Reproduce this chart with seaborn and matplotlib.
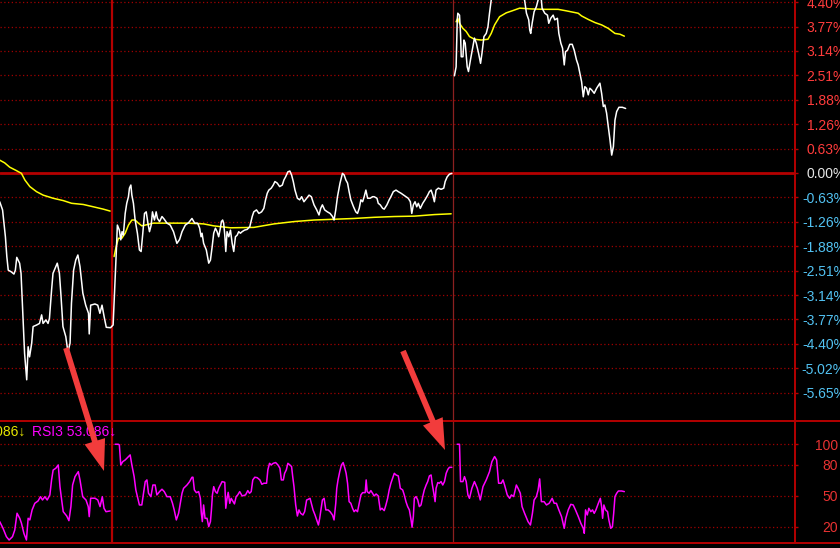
import matplotlib
matplotlib.use("Agg")
import numpy as np
import pandas as pd
import matplotlib.pyplot as plt
import seaborn as sns
from matplotlib.lines import Line2D
from matplotlib.patches import FancyArrowPatch

# ---- price line (% change), minute index, 240 minutes per trading day ----
day1_min = [161, 163, 165, 166, 167, 169, 171, 172, 173, 175, 176, 177.5, 178.5, 180, 181, 182, 183.5, 184.5, 187, 189,
            190.5, 191.5, 193.5, 195, 196, 197.5, 198.5, 201.5, 203, 204, 205.5, 207.5, 209, 210.5, 211.5, 213, 214.5,
            216, 217.5, 219.5, 221.5, 223.5, 224, 225, 228, 230, 231.5, 233, 234.5, 236, 239]
day1_pct = [-0.74, -0.95, -1.64, -2.15, -2.50, -2.54, -2.60, -2.50, -2.17, -2.32, -2.58, -3.78, -4.64, -5.32, -4.47,
            -4.73, -4.38, -3.95, -3.91, -3.87, -3.65, -3.87, -3.78, -3.87, -3.74, -3.01, -2.58, -2.32, -2.58, -3.09,
            -3.95, -4.21, -4.60, -4.38, -3.35, -2.50, -2.24, -2.11, -2.41, -3.09, -3.40, -3.61, -4.14, -3.40, -3.37,
            -3.40, -3.61, -3.40, -3.70, -3.97, -3.98]

day2_min = [240.8, 242.2, 243, 243.8, 245.2, 246.2, 247.1, 248, 249.3, 250.4, 251.6, 252.3, 253.3, 254, 255.1, 256.3,
            257.9, 259.3, 260.5, 261.7, 262.9, 264.1, 265.3, 266.4, 267.6, 268.5, 269.9, 271.1, 272, 273.5, 275.2,
            276.8, 278.7, 281, 283.3, 285.7, 287.6, 289.3, 291.6, 293.9, 296.3, 298.2, 300.3, 301.7, 302.7, 303.4,
            304.5, 306.4, 308.1, 309.3, 310.5, 311.6, 312.8, 314, 315.1, 316.3, 317, 317.9, 318.6, 319.4, 320.1, 321,
            322.2, 323.4, 324.6, 325.7, 326.9, 328.1, 329.2, 330.4, 331.6, 333.3, 335.2, 337, 338.7, 339.8, 341.7,
            343.4, 345.3, 346.9, 348.1, 349.3, 350.4, 352.1, 353.5, 354.7, 356.3, 358, 359.9, 361, 362.2, 363.8,
            365.2, 366.4, 367.6, 368.8, 370.5, 372.1, 373.5, 375.1, 377, 378.7, 380.3, 382.2, 384.1, 385.7, 386.9,
            388.1, 389.7, 391.6, 393.5, 395.2, 396.3, 397.5, 398.7, 400.5, 402.2, 403.4, 404.6, 405.8, 406.9, 408.1,
            410, 411.6, 412.8, 414, 415.2, 416.4, 417.5, 418.7, 419.9, 421.7, 423.4, 424.5, 426.5, 427.4, 428.8,
            430.5, 431.6, 433.5, 435.1, 436.3, 438, 439.9, 441.5, 443.4, 445.3, 446.9, 448.5, 450, 451, 452.1, 453.3,
            454.5, 455.6, 457, 458.7, 460.3, 462.2, 463.4, 464.6, 465.8, 466.9, 468.1, 469.7, 471.6, 473.5, 474.5,
            475.9, 477.5, 479.2]
day2_pct = [-3.91, -2.75, -2.07, -1.34, -1.47, -1.72, -1.51, -1.60, -1.04, -0.78, -0.61, -0.39, -0.31, -0.57, -0.78,
            -1.21, -1.55, -1.98, -2.02, -1.55, -1.04, -1.00, -1.29, -1.51, -1.34, -1.00, -1.21, -1.00, -1.17, -1.25,
            -1.12, -1.19, -1.29, -1.34, -1.51, -1.81, -1.71, -1.51, -1.34, -1.28, -1.17, -1.29, -1.29, -1.42, -1.64,
            -1.55, -1.81, -1.98, -2.32, -2.24, -1.90, -1.55, -1.42, -1.51, -1.64, -1.42, -1.25, -1.21, -1.29, -1.60,
            -2.02, -1.51, -1.64, -1.47, -1.81, -2.02, -1.64, -1.60, -1.51, -1.55, -1.51, -1.47, -1.45, -1.38, -1.12,
            -1.00, -0.95, -1.04, -1.00, -0.91, -0.69, -0.52, -0.44, -0.39, -0.31, -0.22, -0.26, -0.35, -0.31, -0.18,
            -0.10, 0.03, 0.05, -0.05, -0.22, -0.44, -0.65, -0.69, -0.61, -0.74, -0.65, -0.57, -0.61, -0.82, -0.95,
            -1.08, -0.91, -0.82, -0.95, -1.00, -1.04, -1.12, -1.21, -0.95, -0.61, -0.26, -0.01, -0.05, -0.18, -0.26,
            -0.48, -0.69, -0.87, -1.00, -1.04, -0.91, -0.69, -0.74, -0.61, -0.44, -0.65, -0.65, -0.61, -0.61, -0.65,
            -0.78, -0.82, -0.91, -0.93, -0.82, -0.69, -0.61, -0.48, -0.44, -0.48, -0.52, -0.57, -0.61, -0.65, -0.74,
            -1.04, -0.82, -0.74, -0.87, -0.78, -0.91, -0.78, -0.69, -0.57, -0.48, -0.44, -0.57, -0.74, -0.44, -0.39,
            -0.42, -0.39, -0.22, -0.10, -0.03, -0.01]

day3_min = [481, 482.2, 483, 483.4, 484.6, 485.3, 485.8, 487, 487.7, 488.6, 490, 490.9, 492.3, 494, 495.1, 496.4, 498,
            499.4, 500.4, 501.8, 503.4, 504.6, 505.7, 506.9, 510.5, 514, 519, 524.6, 528, 530.4, 531.7, 533.3, 534,
            534.7, 535.7, 537.1, 538.7, 539.9, 540.8, 542.2, 542.7, 544.6, 546.5, 547.4, 548.8, 550.5, 551.6, 553.5,
            554.5, 555.9, 557.1, 558.3, 559.2, 560.6, 562.2, 563.9, 565.3, 566.9, 568.1, 570, 570.5, 571.7, 572.8,
            574, 575.2, 576.3, 577.5, 579.4, 581.1, 583.4, 584.6, 585.8, 586.9, 588.1, 589.3, 590.5, 591.7, 592.9,
            594, 595.2, 596.8, 599.2, 601.5]
day3_pct = [2.50, 2.73, 3.94, 4.11, 4.06, 3.59, 2.99, 2.99, 3.42, 3.34, 2.73, 2.61, 2.91, 3.25, 3.47, 3.34, 3.08, 2.82,
            3.08, 3.51, 3.59, 3.76, 4.11, 4.45, 4.71, 4.84, 4.76, 4.66, 4.53, 4.45, 4.11, 3.94, 3.68, 3.59, 3.85,
            4.15, 4.28, 4.45, 4.55, 4.45, 4.24, 4.11, 4.06, 3.85, 3.98, 4.06, 3.94, 3.98, 3.59, 3.34, 3.21, 2.78,
            3.12, 3.16, 3.31, 3.31, 3.16, 2.91, 2.78, 2.44, 2.35, 1.96, 2.22, 2.18, 2.01, 2.18, 2.14, 2.05, 2.18,
            2.31, 2.05, 1.71, 1.75, 1.54, 1.19, 0.85, 0.46, 0.68, 1.36, 1.58, 1.69, 1.69, 1.66]

# ---- average price line ----
avg1_min = [161, 164.5, 168, 172.8, 176.3, 178.7, 182.2, 186.9, 191.6, 198.6, 205.7, 211.6, 219.8, 226.9, 233.9, 238.7]
avg1_pct = [0.33, 0.26, 0.15, 0.06, -0.01, -0.18, -0.35, -0.48, -0.57, -0.65, -0.71, -0.78, -0.81, -0.87, -0.93, -0.98]
avg2_min = [241.5, 242.9, 244.5, 246.9, 249.3, 251.6, 254, 256.3, 258.6, 261, 263.4, 269.2, 278.7, 292.8, 304.5,
            311.6, 323.4, 339.8, 354, 368.1, 382.2, 396.3, 410.4, 424.5, 438.7, 452.8, 466.9, 478.7]
avg2_pct = [-2.15, -1.90, -1.68, -1.68, -1.55, -1.34, -1.21, -1.21, -1.29, -1.36, -1.34, -1.29, -1.29, -1.29, -1.31,
            -1.36, -1.41, -1.40, -1.31, -1.25, -1.21, -1.19, -1.17, -1.14, -1.12, -1.11, -1.07, -1.05]
avg3_min = [482.2, 483.4, 484.6, 487, 489.3, 491.6, 495.1, 499.9, 504.6, 506.9, 509.3, 512.8, 517.5, 522.3, 526.9,
            535.2, 544.6, 554, 559.9, 568.1, 570.5, 575.2, 579.9, 584.6, 589.3, 594, 597.5, 600.6]
avg3_pct = [3.89, 3.98, 3.85, 3.72, 3.64, 3.51, 3.44, 3.42, 3.44, 3.59, 3.81, 4.02, 4.12, 4.18, 4.24, 4.22, 4.21,
            4.21, 4.17, 4.11, 4.04, 3.95, 3.87, 3.81, 3.72, 3.59, 3.57, 3.52]

# ---- RSI3 ----
rsi1_min = [161, 163.3, 165.7, 167.6, 170, 171.6, 173.2, 175.1, 176.3, 178, 179.8, 181, 182.2, 183.8, 185.7, 188,
            189.7, 191.1, 192.8, 194.4, 196.3, 197.5, 198.6, 200.5, 202.2, 203.4, 204.6, 205.7, 208.1, 209.7, 211.1,
            212.3, 214, 216.3, 217.5, 219.4, 221.7, 223.3, 224, 225, 228.1, 230, 231.6, 233.2, 234.4, 235.8, 238.7]
rsi1_val = [25.2, 18.8, 10.6, 7.4, 10.6, 17.1, 33.3, 28.4, 23.6, 13.9, 7.4, 28.4, 26.8, 36.5, 42.9, 45.2, 49.3, 46.1,
            49.3, 46.1, 51.0, 65.5, 75.1, 76.8, 80.0, 59.0, 46.1, 34.8, 30.7, 26.1, 39.7, 60.6, 68.7, 73.5, 65.5, 49.3,
            46.1, 39.7, 30.0, 47.8, 47.8, 46.1, 39.7, 49.3, 38.1, 34.8, 35.5]
rsi2_min = [242.2, 244.5, 245.2, 246.2, 247.6, 249.3, 251.6, 252.8, 254, 255.6, 256.8, 257.9, 259.3, 261, 262.2,
            263.4, 264.6, 265.7, 267.4, 268.8, 270.4, 271.6, 273.5, 275.2, 276.8, 278.7, 281, 282.6, 283.8, 285.3,
            286.9, 288.1, 289.3, 290.4, 292.8, 294.6, 296.3,
            297, 298, 299.4, 301, 302.2, 302.9, 303.6, 304.5, 305.5, 306.9, 308.1, 309.3, 310, 310.7, 311.6, 312.8,
            314, 315.1, 316.3, 317.5, 319.4, 320.1, 321, 321.8, 322.9, 323.9, 325.3, 326.2, 327.4, 328.5, 329.9,
            331.6, 334, 335.6, 336.8, 338, 339.1, 340.5, 342.2, 344.1, 345.5, 346.9, 348.8, 349.7, 350.9, 352.1,
            353.5, 355.2, 356.8, 358.2, 359.2, 360.6, 361.5, 362.7, 363.8, 365.2, 366.4, 367.2, 368.1, 369.3, 370.5,
            371.6, 372.8, 374.4, 375.6, 377, 378.2, 379.4, 380.3, 381.5, 382.9, 384.1, 385.3, 386.2,
            388.1, 389.3, 390.5, 392.1, 393.5, 395.2, 396.3, 397.5, 398.2, 399.1, 400.3, 401.5, 402.7, 403.9, 404.8,
            405.8, 406.9, 408.1, 409.3, 410.4, 411.6, 412.8, 414, 415.2, 416.4, 418.2, 418.9, 419.6, 421, 422.2,
            423.4, 424.5, 425.9, 427.4, 428.8, 430, 431.6, 432.8, 434, 435.1, 436.3, 437.5, 438.7, 439.9, 441.5,
            442.2, 442.9, 444.6, 445.7, 446.9, 448.1, 449.3, 450.5, 451.2, 452.1, 452.8, 454, 455.2, 456.3, 457.5,
            458.7, 459.8, 461.1, 462.2, 463.4, 464.6, 465.3, 466.5, 467.4, 468.1, 469.3, 470.4, 471.6, 472.8, 474,
            475.2, 476.4, 477.5, 479.2]
rsi2_val = [100, 100, 99.3, 80, 83.2, 84.8, 88, 89.7, 80, 68.7, 55.8, 49.3, 41.3, 41.3, 52.6, 63.8, 65.5, 52.6, 49.3,
            60.6, 60.6, 51.0, 54.2, 56.5, 54.2, 49.3, 49.3, 42.9, 36.5, 26.8, 33.3, 42.9, 52.6, 57.4, 60.6, 63.8, 68.1,
            68.1, 55.8, 53.2, 54.2, 47.7, 33.2, 25.2, 41.3, 28.4, 28.4, 20.3, 25.2, 36.5, 51.0, 59.0, 54.2, 52.6,
            57.4, 60.6, 63.9, 63.2, 38.1, 47.7, 53.5, 42.9, 47.7, 44.5, 42.3, 49.4, 51.0, 54.2, 50.0, 51.0, 55.2,
            52.6, 54.2, 65.5, 68.1, 67.7, 65.5, 61.3, 62.3, 62.3, 75.2, 81.6, 80.0, 81.6, 82.3, 80.0, 76.8, 65.5,
            65.5, 71.9, 75.2, 81.6, 80.0, 78.4, 68.7, 59.0, 41.3, 30.6, 36.5, 33.2, 31.6, 34.8, 46.1, 46.8, 47.7,
            42.9, 36.5, 31.6, 26.8, 21.9, 28.4,
            46.1, 47.7, 36.5, 36.5, 34.8, 31.6, 26.8, 42.9, 57.4, 65.5, 73.5, 80.0, 82.3, 76.8, 71.9, 62.3, 44.5,
            42.9, 38.1, 34.8, 36.5, 34.8, 42.9, 51.0, 53.2, 53.2, 65.5, 54.2, 52.6, 55.2, 52.6, 50.0, 51.9, 50.0,
            36.5, 38.1, 35.8, 41.3, 47.7, 55.8, 62.3, 67.1, 71.9, 70.3, 69.4, 63.9, 57.4, 55.8, 51.0, 44.5, 39.7,
            36.5, 26.8, 19.7, 30.0, 47.7, 49.4, 46.1, 39.7, 41.3, 49.4, 55.8, 60.6, 63.9, 69.4, 70.3, 62.3, 52.6,
            44.5, 57.4, 62.9, 62.3, 63.9, 60.6, 63.9, 71.9, 75.8, 77.7, 77.7]
rsi3_min = [482.9, 484.6, 485.3, 487, 488.1, 489.3, 490.5, 491.6, 493.3, 495.1, 497.1, 499.2, 501.1, 503.4, 505.7,
            507.4, 509.3, 510.7, 512.1, 514, 515.2, 516.3, 518.2, 519.9, 521.1, 522.7, 524.6, 525.8, 527.4, 528.6,
            530.4, 532.8, 534.5, 535.9, 537.1, 538.7, 539.9, 541, 542.2, 544.1, 545.8, 547.7, 549.8, 551.2, 552.8,
            554.5, 556.4, 558.3, 559.4, 561.1, 562.9, 564.6, 566.2, 568.2, 570, 571.7, 572.4, 573.3, 574.5, 575.6,
            577, 578.2, 579.4, 580.6, 582.3, 583.7, 584.6, 585.3, 586.2, 587.4, 588.8, 589.7, 591, 592.2, 593.1, 594,
            595.2, 596.4, 598.7, 600.6]
rsi3_val = [100, 100, 63.9, 63.9, 68.7, 63.9, 51.0, 47.7, 57.4, 63.9, 57.4, 46.1, 59.0, 65.5, 73.5, 83.2, 88.1, 84.8,
            62.3, 62.3, 65.5, 60.6, 51.0, 47.7, 51.0, 49.4, 60.6, 57.4, 52.6, 39.7, 33.2, 25.2, 21.9, 33.2, 46.1,
            49.4, 55.8, 66.5, 44.5, 44.5, 41.3, 42.9, 47.7, 42.9, 42.9, 36.5, 30.0, 18.7, 28.4, 36.5, 41.9, 41.3,
            36.5, 30.0, 23.5, 18.7, 13.9, 36.5, 31.6, 38.1, 34.8, 36.5, 33.2, 36.5, 42.9, 47.7, 39.7, 28.4, 41.3,
            36.5, 34.8, 26.8, 18.7, 20.3, 33.2, 49.4, 52.6, 54.8, 54.8, 54.2]

pct_labels = ["4.40%", "3.77%", "3.14%", "2.51%", "1.88%", "1.26%", "0.63%", "0.00%", "-0.63%", "-1.26%",
              "-1.88%", "-2.51%", "-3.14%", "-3.77%", "-4.40%", "-5.02%", "-5.65%"]
pct_steps = list(range(7, -10, -1))
pct_step = 5.65 / 9
rsi_ticks = [100, 80, 50, 20]
day_breaks = [240, 480]

price_df = pd.DataFrame({"minute": day1_min + day2_min + day3_min,
                         "pct": day1_pct + day2_pct + day3_pct,
                         "seg": ["a"] * (len(day1_min) + len(day2_min)) + ["b"] * len(day3_min)})
avg_df = pd.DataFrame({"minute": avg1_min + avg2_min + avg3_min,
                       "pct": avg1_pct + avg2_pct + avg3_pct,
                       "seg": [1] * len(avg1_min) + [2] * len(avg2_min) + [3] * len(avg3_min)})
rsi_df = pd.DataFrame({"minute": rsi1_min + rsi2_min + rsi3_min,
                       "rsi": rsi1_val + rsi2_val + rsi3_val,
                       "seg": [1] * len(rsi1_min) + [2] * len(rsi2_min) + [3] * len(rsi3_min)})

sns.set_theme(style="dark")
plt.rcParams["font.family"] = ["Liberation Sans", "DejaVu Sans"]

RED = "#b40000"
GRID = "#a00000"
W, H = 840, 548
fig = plt.figure(figsize=(W / 100, H / 100), dpi=100, facecolor="black")
ax = fig.add_axes([0, (H - 421) / H, 795 / W, 421 / H])
ax2 = fig.add_axes([0, (H - 543) / H, 795 / W, 122 / H])

for a in (ax, ax2):
    a.set_facecolor("black")
    a.set_xlim(161.2, 720.7)
    a.set_xticks([])
    for s in ("top", "bottom", "left"):
        a.spines[s].set_visible(False)
    a.spines["right"].set_color(RED)
    a.spines["right"].set_linewidth(1.4)
    a.yaxis.tick_right()
    a.axvline(day_breaks[0], color=RED, lw=1.6, zorder=1)
    a.axvline(day_breaks[1], color="#8c2020", lw=0.9, zorder=1)

# main panel
ticks = [k * pct_step for k in pct_steps]
ax.set_ylim(-6.38, 4.45)
ax.set_yticks(ticks)
ax.set_yticklabels(pct_labels)
ax.grid(False)
for t in ticks:
    if abs(t) > 1e-9:
        ax.axhline(t, color=GRID, lw=0.9, ls=(0, (1, 2)), zorder=1)
ax.axhline(0, color=RED, lw=2.0, zorder=1)
ax.tick_params(axis="y", direction="out", length=2.2, width=1, color=RED, pad=34.5, labelsize=10)
for lbl, s in zip(ax.get_yticklabels(), pct_steps):
    lbl.set_horizontalalignment("right")
    lbl.set_color("#ff3c3c" if s > 0 else ("#e6e6e6" if s == 0 else "#52c2f2"))

sns.lineplot(data=avg_df, x="minute", y="pct", units="seg", estimator=None, sort=False,
             color="#ffff00", lw=1.1, ax=ax, zorder=3)
sns.lineplot(data=price_df, x="minute", y="pct", units="seg", estimator=None, sort=False,
             color="white", lw=1.1, ax=ax, zorder=4)
ax.set_xlabel("")
ax.set_ylabel("")

# RSI panel
ax2.set_ylim(4.5, 122.5)
ax2.set_yticks(rsi_ticks)
ax2.set_yticklabels([str(v) for v in rsi_ticks])
ax2.grid(False)
for v in rsi_ticks:
    ax2.axhline(v, color=GRID, lw=0.9, ls=(0, (1, 2)), zorder=1)
ax2.tick_params(axis="y", direction="out", length=2.2, width=1, color=RED, pad=28.8, labelsize=10,
                labelcolor="#e83232")
for lbl in ax2.get_yticklabels():
    lbl.set_horizontalalignment("right")
sns.lineplot(data=rsi_df, x="minute", y="rsi", units="seg", estimator=None, sort=False,
             color="#ff00ff", lw=1.1, ax=ax2, zorder=3)
ax2.set_xlabel("")
ax2.set_ylabel("")

# panel separators across the full width
for yp in (421, 543):
    fig.add_artist(Line2D([0, 1], [(H - yp) / H, (H - yp) / H], transform=fig.transFigure, color=RED, lw=1.4))

fig.text(25 / W, (H - 432) / H, "RSI2 53.086↓", color="#e6e600", fontsize=10, ha="right", va="center")
fig.text(32 / W, (H - 432) / H, "RSI3 53.086↓", color="#ff00ff", fontsize=10, ha="left", va="center")

# hand-drawn red arrows, drawn on top of both panels
for tail, tip in (((66, 348), (104, 471)), ((403, 351), (445, 450))):
    fig.add_artist(FancyArrowPatch((tail[0] / W, (H - tail[1]) / H), (tip[0] / W, (H - tip[1]) / H),
                                   transform=fig.transFigure, color="#f23c3c", lw=0,
                                   arrowstyle="simple,head_length=1.6,head_width=1.1,tail_width=0.3",
                                   mutation_scale=14, shrinkA=0, shrinkB=0, zorder=10))

fig.savefig("out.png", dpi=100, facecolor="black")
